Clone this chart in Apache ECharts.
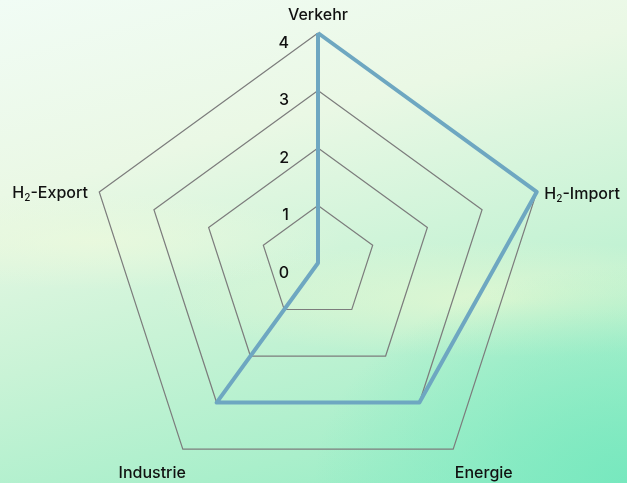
<!DOCTYPE html>
<html>
<head>
<meta charset="utf-8">
<script src="https://cdn.jsdelivr.net/npm/echarts@6/dist/echarts.min.js"></script>
<style>
  html, body { margin: 0; padding: 0; }
  #chart {
    width: 627px;
    height: 483px;
    background:
      radial-gradient(ellipse 50% 45% at 100% 100%, rgba(118,232,190,0.95) 0%, rgba(128,234,194,0.5) 55%, rgba(140,236,196,0) 100%),
      radial-gradient(ellipse 55% 12% at 80% 62%, rgba(232,248,210,0.75) 0%, rgba(232,248,210,0) 100%),
      radial-gradient(ellipse 40% 10% at 15% 50%, rgba(240,250,220,0.6) 0%, rgba(240,250,220,0) 100%),
      linear-gradient(165deg, #f1fcf5 0%, #eaf8e5 30%, #c9f3d6 58%, #aaefcb 82%, #90ecc4 100%);
  }
</style>
</head>
<body>
<div id="chart"></div>
<script>
  // indicators in ECharts order (counter-clockwise from the top)
  const indicatorNames = ['Verkehr', 'H₂-Export', 'Industrie', 'Energie', 'H₂-Import'];
  const indicatorMax = [4, 4, 4, 4, 4];
  const values = [4, 0, 3, 3, 4];

  const fontFam = 'Inter';
  const fontW = 500;
  let myChart = echarts.init(document.getElementById('chart'));

  // per-axis name placement tweaks
  const nameGaps = [8, 12, 18, 18, 8];
  const nameStyles = [
    {},
    { padding: [10, 0, 0, 0] },
    { align: 'center', verticalAlign: 'top', padding: [0, 40, 0, 0] },
    { align: 'center', verticalAlign: 'top', padding: [0, 0, 0, 40] },
    { padding: [10, 0, 0, 0] }
  ];

  myChart.setOption({
    animation: false,
    backgroundColor: 'transparent',
    radar: {
      center: [318, 263],
      radius: 230,
      startAngle: 90,
      splitNumber: 4,
      shape: 'polygon',
      indicator: indicatorNames.map(function (n, i) {
        let ind = { name: n, min: 0, max: indicatorMax[i], nameGap: nameGaps[i], nameTextStyle: nameStyles[i] };
        if (i === 0) {
          ind.axisLabel = { show: true };
        }
        return ind;
      }),
      axisName: {
        color: '#111111',
        fontFamily: fontFam,
        fontSize: 16,
        fontWeight: fontW,
        formatter: function (v) {
          if (v.indexOf('₂') >= 0) {
            return '{n|H}{s|2}{n|' + v.split('₂')[1] + '}';
          }
          return '{n|' + v + '}';
        },
        rich: {
          n: { fontFamily: fontFam, fontSize: 16, fontWeight: fontW, color: '#111111', lineHeight: 20 },
          s: { fontFamily: fontFam, fontSize: 10, fontWeight: fontW, color: '#111111', lineHeight: 20, padding: [10, 0, 0, 0] }
        }
      },
      axisLine: { show: false },
      axisTick: { show: false },
      axisLabel: {
        show: false,
        color: '#111111',
        fontFamily: fontFam,
        fontWeight: fontW,
        fontSize: 16,
        margin: 29,
        verticalAlign: 'top',
        lineHeight: 20
      },
      splitLine: { lineStyle: { color: '#7c7c7c', width: 1.2 } },
      splitArea: { show: false }
    },
    series: [
      {
        type: 'radar',
        symbol: 'none',
        lineStyle: { color: '#6ea7c1', width: 4 },
        data: [{ value: values }]
      }
    ]
  });
</script>
</body>
</html>
